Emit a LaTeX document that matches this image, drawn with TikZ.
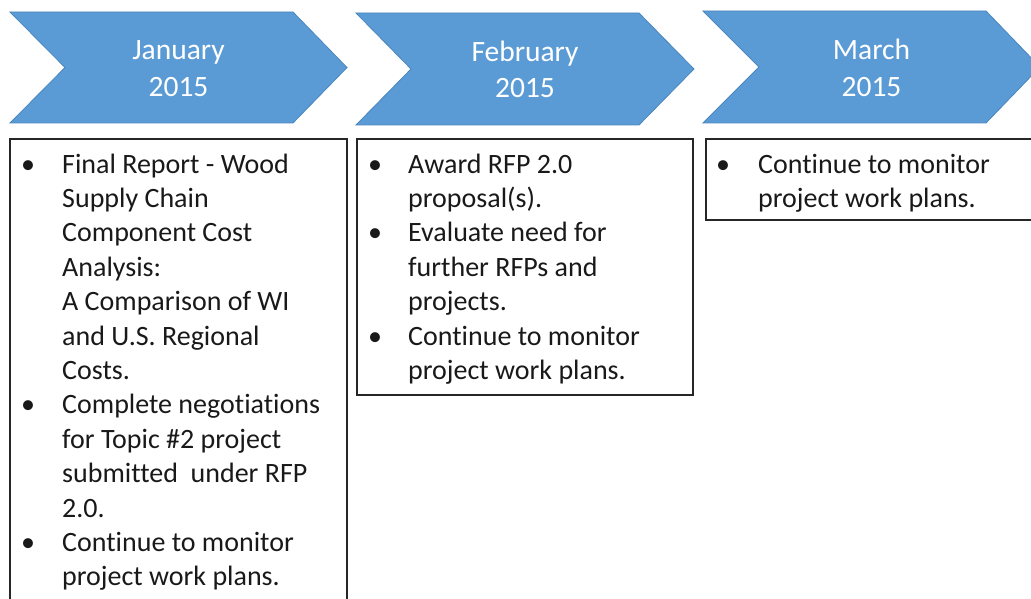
\documentclass[tikz,border=0pt]{standalone}
\usepackage{fontspec}
\setmainfont{Carlito}[Ligatures={NoCommon,NoRequired,NoContextual}]
\definecolor{chevfill}{HTML}{5B9BD5}
\definecolor{chevline}{HTML}{4A86BE}
\begin{document}
\begin{tikzpicture}[x=1pt,y=-1pt,
  chev/.style={fill=chevfill,draw=chevline,line width=0.8pt},
  mon/.style={text=white,font=\fontsize{29.5}{37}\selectfont,anchor=base,inner sep=0pt},
  tbox/.style={draw=black!85,line width=1.2pt},
  tline/.style={font=\fontsize{28}{34.4}\selectfont,anchor=base west,inner sep=0pt,text=black!90},
  bul/.style={font=\fontsize{28}{34.4}\selectfont,anchor=base,inner sep=0pt,text=black!90}]
\useasboundingbox (0,0) rectangle (1031,599);
\clip (0,0) rectangle (1031,599);
% chevrons
\draw[chev] (10,12) -- (293,12) -- (347,67.5) -- (293,123) -- (10,123) -- (65,67.5) -- cycle;
\draw[chev] (356,13) -- (639,13) -- (694,69) -- (639,125) -- (356,125) -- (411,69) -- cycle;
\draw[chev] (703,11) -- (986,11) -- (1040,67) -- (986,123) -- (703,123) -- (759,67) -- cycle;
\node[mon] (m1) at (178.5,60) {January};
\node[mon] (y1) at (178.5,97) {2015};
\node[mon] (m2) at (525,62) {February};
\node[mon] (y2) at (525,98) {2015};
\node[mon] (m3) at (871.5,60) {March};
\node[mon] (y3) at (871.5,97) {2015};
% boxes
\draw[tbox] (10,139) rectangle (347,640);
\draw[tbox] (357,139) rectangle (693,395);
\draw[tbox] (706,139) rectangle (1060,220);
% box 1
\foreach \t [count=\i] in {Final Report - Wood,Supply Chain,Component Cost,Analysis:,A Comparison of WI,and U.S. Regional,Costs.,Complete negotiations,for Topic \#2 project,submitted\ \ under RFP,2.0.,Continue to monitor,project work plans.}
  {\node[tline] (a\i) at (62,{173+34.4*(\i-1)}) {\t};}
\foreach \i in {1,8,12}
  {\node[bul] (ab\i) at (28,{173+34.4*(\i-1)}) {•};}
% box 2
\foreach \t [count=\i] in {Award RFP 2.0,proposal(s).,Evaluate need for,further RFPs and,projects.,Continue to monitor,project work plans.}
  {\node[tline] (b\i) at (408,{173+34.4*(\i-1)}) {\t};}
\foreach \i in {1,3,6}
  {\node[bul] (bb\i) at (375,{173+34.4*(\i-1)}) {•};}
% box 3
\foreach \t [count=\i] in {Continue to monitor,project work plans.}
  {\node[tline] (c\i) at (758,{173+34.4*(\i-1)}) {\t};}
\node[bul] (cb1) at (723,173) {•};
\end{tikzpicture}
\end{document}
